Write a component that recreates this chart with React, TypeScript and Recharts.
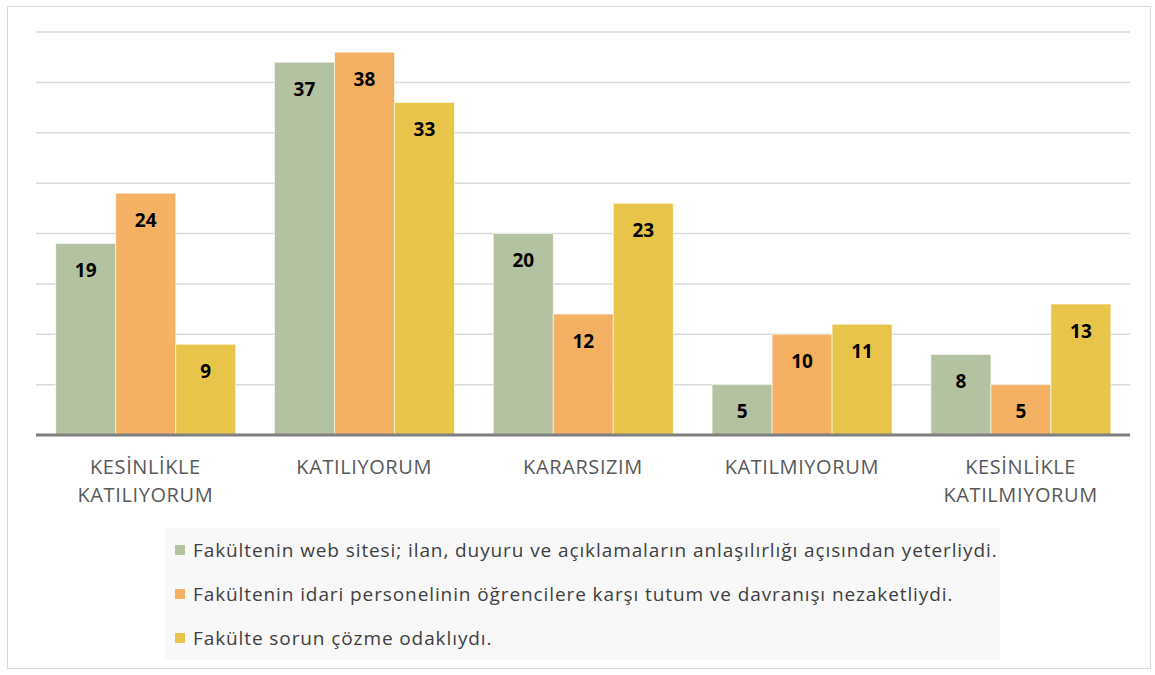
import { BarChart, Bar, XAxis, YAxis, CartesianGrid, LabelList, Legend } from "recharts";

const categories = [
  "KESİNLİKLE KATILIYORUM",
  "KATILIYORUM",
  "KARARSIZIM",
  "KATILMIYORUM",
  "KESİNLİKLE KATILMIYORUM",
];
const webSitesi = [19, 37, 20, 5, 8];
const idariPersonel = [24, 38, 12, 10, 5];
const sorunCozme = [9, 33, 23, 11, 13];
const seriesNames = [
  "Fakültenin web sitesi; ilan, duyuru ve açıklamaların anlaşılırlığı açısından yeterliydi.",
  "Fakültenin idari personelinin öğrencilere karşı tutum ve davranışı nezaketliydi.",
  "Fakülte sorun çözme odaklıydı.",
];
const seriesColors = ["#b3c2a1", "#f4b063", "#e8c54a"];
const yTicks = [0, 5, 10, 15, 20, 25, 30, 35, 40];

const data = categories.map((name, i) => ({
  name,
  s0: webSitesi[i],
  s1: idariPersonel[i],
  s2: sorunCozme[i],
}));

const FONT = "'Open Sans', 'Noto Sans', sans-serif";

function CategoryTick(props: any) {
  const { x, y, payload } = props;
  const lines = String(payload.value).split(" ");
  return (
    <g transform={`translate(${x},${y})`}>
      {lines.map((line: string, i: number) => (
        <text
          key={i}
          x={0}
          y={31 + i * 28}
          textAnchor="middle"
          fill="#595959"
          fontSize={20}
          letterSpacing={0.6}
          fontFamily={FONT}
        >
          {line}
        </text>
      ))}
    </g>
  );
}

function LegendBox() {
  return (
    <div
      style={{
        width: 835,
        height: 132,
        background: "#f8f8f8",
        fontFamily: FONT,
        fontSize: 19,
        letterSpacing: 0.9,
        color: "#404040",
        boxSizing: "border-box",
        paddingTop: 0,
      }}
    >
      {seriesNames.map((n, i) => (
        <div key={n} style={{ display: "flex", alignItems: "center", height: 44, paddingLeft: 10 }}>
          <span style={{ width: 10, height: 10, background: seriesColors[i], marginRight: 8, display: "inline-block" }} />
          <span>{n}</span>
        </div>
      ))}
    </div>
  );
}

export default function App() {
  return (
    <div style={{ position: "absolute", left: 0, top: 0, width: 1155, height: 675, background: "#fff" }}>
      <div
        style={{
          position: "absolute",
          left: 7,
          top: 6,
          width: 1142,
          height: 661,
          border: "1px solid #d9d9d9",
        }}
      />
      <BarChart
        width={1155}
        height={675}
        data={data}
        margin={{ top: 32, right: 25, left: 36, bottom: 180 }}
        barCategoryGap="9%"
        barGap={0}
      >
        <CartesianGrid vertical={false} stroke="#d9d9d9" strokeWidth={1.5} />
        <YAxis hide domain={[0, 40]} ticks={yTicks} />
        <XAxis
          dataKey="name"
          tick={<CategoryTick />}
          tickLine={false}
          axisLine={{ stroke: "#7f7f7f", strokeWidth: 3 }}
          height={60}
          interval={0}
        />
        <Legend
          layout="vertical"
          align="center"
          verticalAlign="middle"
          content={() => <LegendBox />}
          wrapperStyle={{ left: 165, top: 528, width: 835, height: 132 }}
        />
        {["s0", "s1", "s2"].map((k, i) => (
          <Bar
            key={k}
            dataKey={k}
            name={seriesNames[i]}
            fill={seriesColors[i]}
            stroke="#ffffff"
            strokeOpacity={0.6}
            strokeWidth={1}
            isAnimationActive={false}
          >
            <LabelList
              dataKey={k}
              position="insideTop"
              offset={20}
              fill="#000"
              fontSize={19}
              fontWeight="bold"
              fontFamily={FONT}
            />
          </Bar>
        ))}
      </BarChart>
    </div>
  );
}
